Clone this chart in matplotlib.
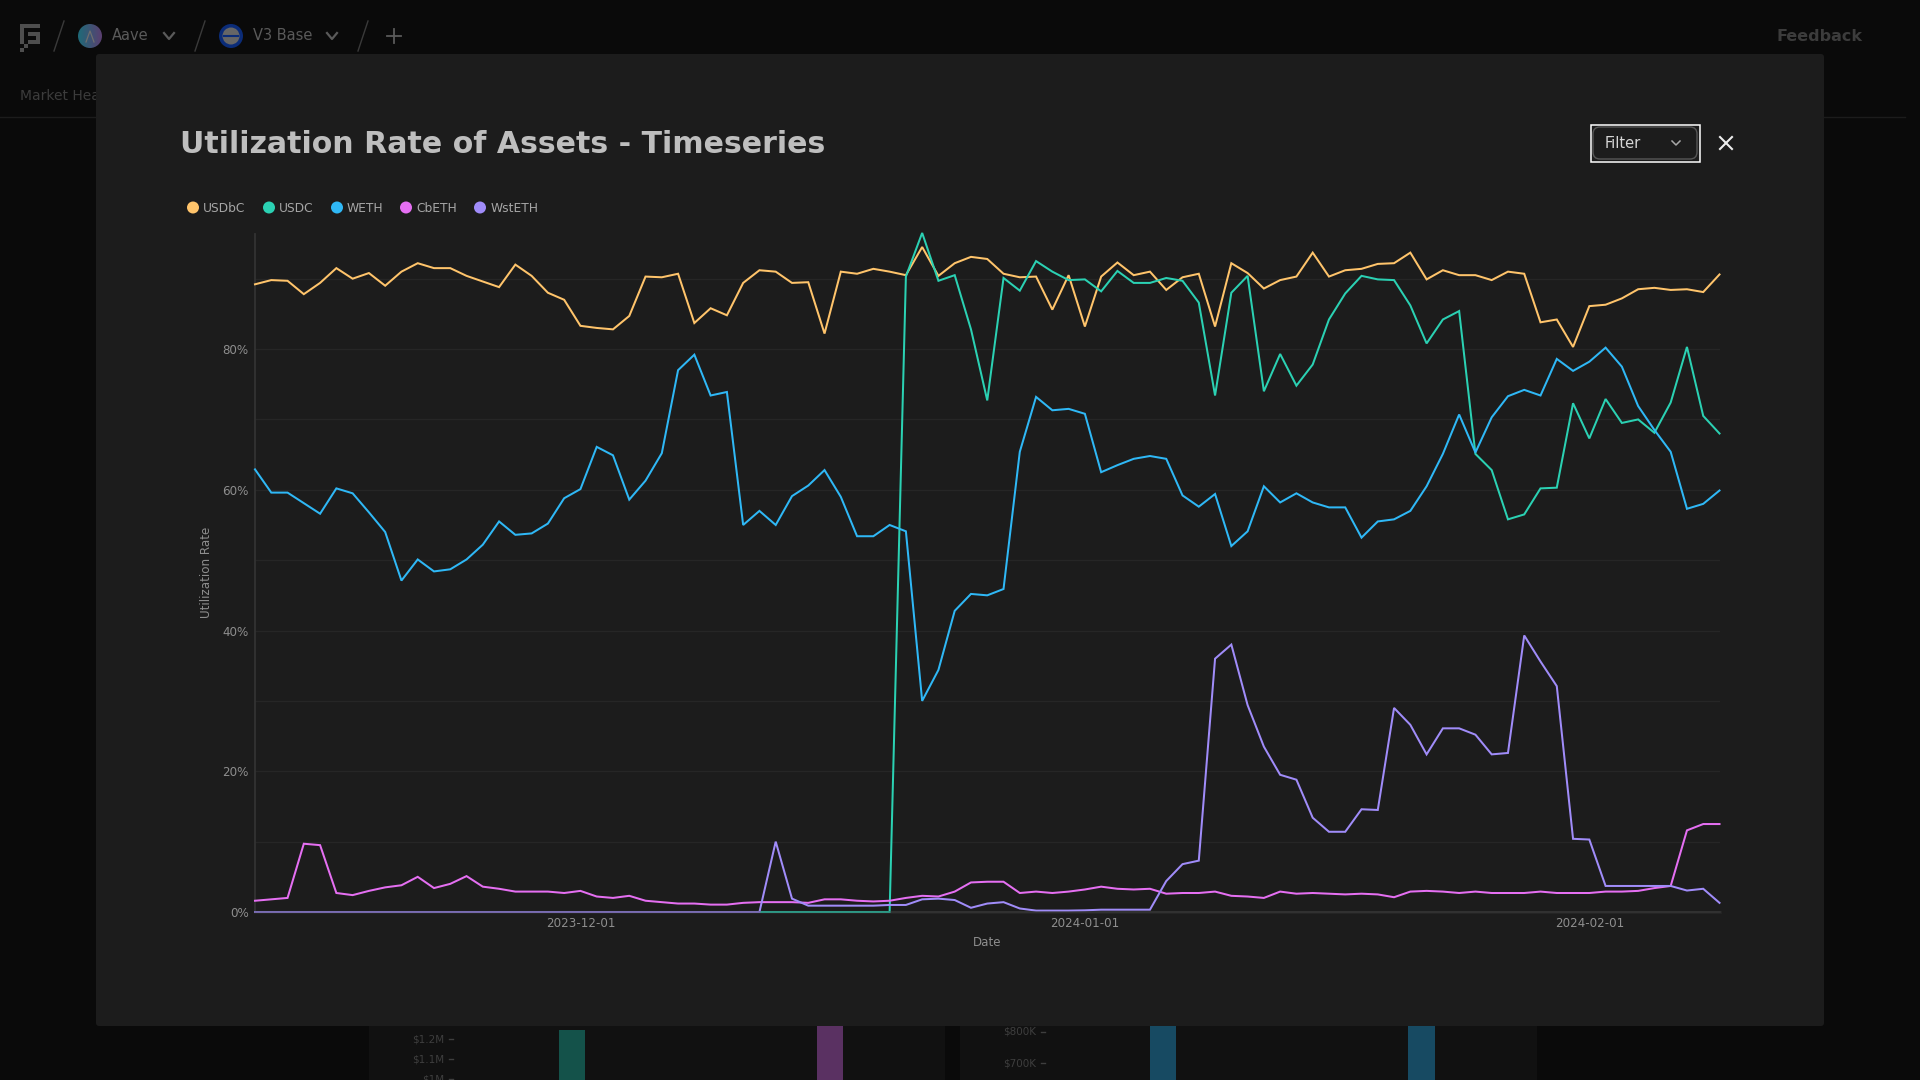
import matplotlib
matplotlib.use("Agg")
import matplotlib.pyplot as plt
import matplotlib.dates as mdates
from matplotlib.patches import Rectangle, FancyBboxPatch, Circle
import numpy as np
import pandas as pd

plt.rcParams['font.family'] = ['DejaVu Sans']

start_date = "2023-11-11"
series_names = ["USDbC", "USDC", "WETH", "CbETH", "WstETH"]
series_colors = ["#FFC46B", "#2BD1B3", "#2FB8F6", "#E56FF2", "#A08CF9"]
y_ticks = [0, 20, 40, 60, 80]
y_grid = [10, 30, 50, 70, 90]
x_ticks = ["2023-12-01", "2024-01-01", "2024-02-01"]

usdbc = [89.2, 89.8, 89.7, 87.8, 89.4, 91.5, 90.0, 90.8, 89.0, 91.0,
         92.2, 91.5, 91.5, 90.4, 89.6, 88.8, 92.0, 90.4, 88.0, 87.0,
         83.3, 83.0, 82.8, 84.7, 90.3, 90.2, 90.7, 83.7, 85.8, 84.8,
         89.4, 91.2, 91.0, 89.4, 89.5, 82.2, 91.0, 90.7, 91.4, 91.0,
         90.5, 94.5, 90.4, 92.2, 93.1, 92.8, 90.7, 90.2, 90.3, 85.6,
         90.5, 83.2, 90.3, 92.3, 90.5, 91.0, 88.4, 90.2, 90.7, 83.2,
         92.2, 90.8, 88.6, 89.8, 90.3, 93.7, 90.3, 91.2, 91.4, 92.1,
         92.2, 93.7, 89.9, 91.2, 90.5, 90.5, 89.8, 91.0, 90.7, 83.8,
         84.2, 80.3, 86.1, 86.3, 87.2, 88.5, 88.7, 88.4, 88.5, 88.1,
         90.6]
usdc = [0.0] * 40 + [
         90.3, 96.5, 89.7, 90.5, 82.8, 72.7, 90.1, 88.3, 92.5, 91.0,
         89.8, 89.9, 88.2, 91.1, 89.4, 89.4, 90.1, 89.7, 86.6, 73.4,
         88.0, 90.4, 74.0, 79.3, 74.8, 77.8, 84.2, 87.9, 90.4, 89.9,
         89.8, 86.2, 80.8, 84.2, 85.4, 65.1, 62.8, 55.8, 56.5, 60.2,
         60.3, 72.3, 67.3, 72.9, 69.5, 70.0, 68.1, 72.4, 80.3, 70.5,
         68.0]
weth = [62.9, 59.6, 59.6, 58.1, 56.6, 60.2, 59.5, 56.8, 54.0, 47.1,
        50.1, 48.4, 48.7, 50.1, 52.2, 55.5, 53.6, 53.8, 55.2, 58.8,
        60.1, 66.1, 64.9, 58.6, 61.3, 65.2, 77.0, 79.2, 73.4, 73.9,
        55.0, 57.0, 55.0, 59.1, 60.6, 62.8, 59.0, 53.4, 53.4, 55.0,
        54.1, 30.0, 34.4, 42.8, 45.2, 45.0, 45.9, 65.4, 73.2, 71.3,
        71.5, 70.8, 62.5, 63.5, 64.4, 64.8, 64.4, 59.2, 57.6, 59.4,
        52.0, 54.1, 60.5, 58.2, 59.5, 58.2, 57.5, 57.5, 53.2, 55.5,
        55.8, 57.0, 60.5, 65.1, 70.7, 65.3, 70.3, 73.3, 74.2, 73.4,
        78.6, 76.9, 78.2, 80.2, 77.5, 71.9, 68.5, 65.4, 57.3, 58.0,
        59.9]
cbeth = [1.6, 1.8, 2.0, 9.7, 9.5, 2.7, 2.4, 3.0, 3.5, 3.8,
         5.0, 3.4, 4.0, 5.1, 3.6, 3.3, 2.9, 2.9, 2.9, 2.7,
         3.0, 2.2, 2.0, 2.3, 1.6, 1.4, 1.2, 1.2, 1.05, 1.05,
         1.3, 1.4, 1.4, 1.4, 1.3, 1.8, 1.8, 1.6, 1.5, 1.6,
         2.0, 2.3, 2.2, 2.9, 4.2, 4.3, 4.3, 2.7, 2.9, 2.7,
         2.9, 3.2, 3.6, 3.3, 3.2, 3.3, 2.6, 2.7, 2.7, 2.9,
         2.3, 2.2, 2.0, 2.9, 2.6, 2.7, 2.6, 2.5, 2.6, 2.5,
         2.1, 2.9, 3.0, 2.9, 2.7, 2.9, 2.7, 2.7, 2.7, 2.9,
         2.7, 2.7, 2.7, 2.9, 2.9, 3.0, 3.4, 3.7, 11.6, 12.5,
         12.5]
wsteth = [0.0] * 32 + [
          10.0, 1.9, 0.9, 0.9, 0.9, 0.9, 0.9, 1.0, 1.0, 1.8,
          1.9, 1.7, 0.6, 1.2, 1.4, 0.5, 0.2, 0.2, 0.2, 0.24,
          0.33, 0.33, 0.33, 0.33, 4.4, 6.8, 7.3, 36.0, 38.0, 29.4,
          23.5, 19.5, 18.8, 13.4, 11.4, 11.4, 14.6, 14.5, 29.0, 26.6,
          22.4, 26.1, 26.1, 25.2, 22.4, 22.6, 39.3, 35.6, 32.1, 10.4,
          10.3, 3.7, 3.7, 3.7, 3.7, 3.7, 3.05, 3.3, 1.3]
series_values = [usdbc, usdc, weth, cbeth, wsteth]
dates = pd.date_range(start_date, periods=len(usdbc), freq="D")

W, H = 1920, 1080
fig = plt.figure(figsize=(W / 100, H / 100), dpi=100, facecolor="#0A0A0A")

# page chrome, in pixel coordinates
bg = fig.add_axes([0, 0, 1, 1], zorder=0)
bg.axis("off")

# logo
for (x, y, w, h) in [(20, 24, 20, 4), (20, 24, 4, 20), (28, 32, 12, 4), (36, 32, 4, 12),
                     (28, 40, 12, 4), (24, 44, 4, 4), (20, 48, 4, 4)]:
    bg.add_patch(Rectangle((x, y), w, h, color="#4E4E4E", lw=0))
for x0 in (54, 195, 358):
    bg.plot([x0, x0 + 10], [51, 21], color="#3A3A3A", lw=1)
# Aave icon with its purple-to-teal shading
grad = np.linspace(0, 1, 32)[:, None] * np.ones((32, 32))
aave_cmap = matplotlib.colors.LinearSegmentedColormap.from_list("aave", ["#1F6A78", "#5A3F70"])
im = bg.imshow(grad.T, extent=(78, 102, 48, 24), cmap=aave_cmap, aspect="auto", zorder=1)
im.set_clip_path(Circle((90, 36), 12, transform=bg.transData))
bg.plot([86, 90, 94], [42, 31, 42], color="#6E6E6E", lw=0.9, zorder=2)
bg.add_patch(Circle((231, 36), 12, color="#0B2C78", lw=0))
bg.add_patch(Circle((231, 36), 8.5, color="#666666", lw=0))
bg.plot([224, 238], [36, 36], color="#0B2C78", lw=1.5)
bg.text(112, 36, "Aave", color="#5A5A5A", va="center", fontsize=10.5)
bg.text(253, 36, "V3 Base", color="#5A5A5A", va="center", fontsize=10.5)
for cx in (169, 332):
    bg.plot([cx - 5, cx, cx + 5], [33, 39, 33], color="#5A5A5A", lw=1.6)
bg.plot([393.5, 393.5], [29, 43], color="#5A5A5A", lw=1.3)
bg.plot([386.5, 400.5], [36, 36], color="#5A5A5A", lw=1.3)
bg.text(20, 95.5, "Market Hea", color="#3C3C3C", va="center", fontsize=10)
bg.plot([0, 1905], [117, 117], color="#1C1C1C", lw=1)
bg.text(1777, 36.5, "Feedback", color="#3C3C3C", va="center", fontsize=11.5, fontweight="bold")

# panels peeking out below the modal
bg.add_patch(Rectangle((369, 1000), 576, 80, color="#111111", lw=0))
bg.add_patch(Rectangle((960, 1000), 577, 80, color="#111111", lw=0))
for (x, y, w, c) in [(559, 1030, 26, "#14524A"), (817, 1026, 26, "#5A3162"),
                     (1150, 1026, 26, "#174A62"), (1408, 1026, 27, "#174A62")]:
    bg.add_patch(Rectangle((x, y), w, 1080 - y, color=c, lw=0))
for (x, y, s) in [(444, 1039, "$1.2M"), (444, 1059, "$1.1M"), (444, 1079, "$1M"),
                  (1036, 1032, "$800K"), (1036, 1063, "$700K")]:
    bg.text(x, y, s, color="#3E3E3E", ha="right", va="center", fontsize=7.5)
    bg.plot([x + 5, x + 9], [y, y], color="#3E3E3E", lw=1)

# modal
bg.add_patch(FancyBboxPatch((99, 57), 1722, 966, boxstyle="round,pad=3,rounding_size=3",
                            facecolor="#1C1C1C", edgecolor="none", zorder=3))
bg.text(180, 144.5, "Utilization Rate of Assets - Timeseries", color="#BEBEBE",
        fontsize=21.6, fontweight="bold", va="center", zorder=4)

# filter control
bg.add_patch(Rectangle((1590.5, 124.5), 109, 37, fill=False, edgecolor="#FFFFFF", lw=1.1, zorder=4))
bg.add_patch(FancyBboxPatch((1599, 133), 92, 20, boxstyle="round,pad=6,rounding_size=7",
                            facecolor="none", edgecolor="#565656", lw=1, zorder=4))
bg.text(1605, 143, "Filter", color="#D6D6D6", va="center", fontsize=10.5, zorder=4)
bg.plot([1672, 1676, 1680], [141, 145, 141], color="#A8A8A8", lw=1.1, zorder=4)
bg.plot([1720, 1732], [137, 149], color="#EDEDED", lw=1.5, zorder=4)
bg.plot([1720, 1732], [149, 137], color="#EDEDED", lw=1.5, zorder=4)

# legend
leg_dots = [193, 269, 337, 406, 480]
leg_text = [203, 279, 347, 416, 490.5]
for nm, col, cx, tx in zip(series_names, series_colors, leg_dots, leg_text):
    bg.add_patch(Circle((cx, 207.5), 6, color=col, lw=0, zorder=4))
    bg.text(tx, 208, nm, color="#A6A6A6", va="center", fontsize=8.8, zorder=4)

bg.set_xlim(0, W)
bg.set_ylim(H, 0)

# chart
L, R, T, B = 255, 1719.5, 234, 912
ax = fig.add_axes([L / W, 1 - B / H, (R - L) / W, (B - T) / H], zorder=2)
ax.patch.set_alpha(0)
for nm, col, vals in zip(series_names, series_colors, series_values):
    ax.plot(dates, vals, color=col, lw=1.45, label=nm, zorder=3,
            solid_joinstyle="miter", clip_on=False)
ax.set_xlim(dates[0], dates[-1])
ax.set_ylim(0, 96.35)
ax.set_yticks(y_ticks)
ax.set_yticklabels([f"{v}%" for v in y_ticks])
ax.set_xticks(pd.to_datetime(x_ticks))
ax.xaxis.set_major_formatter(mdates.DateFormatter("%Y-%m-%d"))
ax.tick_params(length=0, colors="#8E8E8E", labelsize=8.6)
ax.tick_params(axis="x", pad=3.8)
ax.tick_params(axis="y", pad=4.5)
for v in y_ticks[1:] + y_grid:
    ax.axhline(v, color="#262626", lw=1, zorder=1)
for s in ("top", "right"):
    ax.spines[s].set_visible(False)
for s in ("left", "bottom"):
    ax.spines[s].set_color("#333333")
    ax.spines[s].set_linewidth(1.3)
    ax.spines[s].set_zorder(1)
ax.axhline(0, color="#333333", lw=2, alpha=0.4, zorder=5, clip_on=False)
ax.set_xlabel("Date", color="#8E8E8E", fontsize=8.6)
ax.xaxis.set_label_coords(0.5, -(942 - 912) / (B - T))
ax.xaxis.label.set_va("center")
ax.set_ylabel("Utilization Rate", color="#8E8E8E", fontsize=8.6)
ax.yaxis.set_label_coords(-(255 - 206) / (R - L), 1 - (572 - T) / (B - T))
ax.yaxis.label.set_va("center")

fig.savefig("out.png", dpi=100, facecolor=fig.get_facecolor())
